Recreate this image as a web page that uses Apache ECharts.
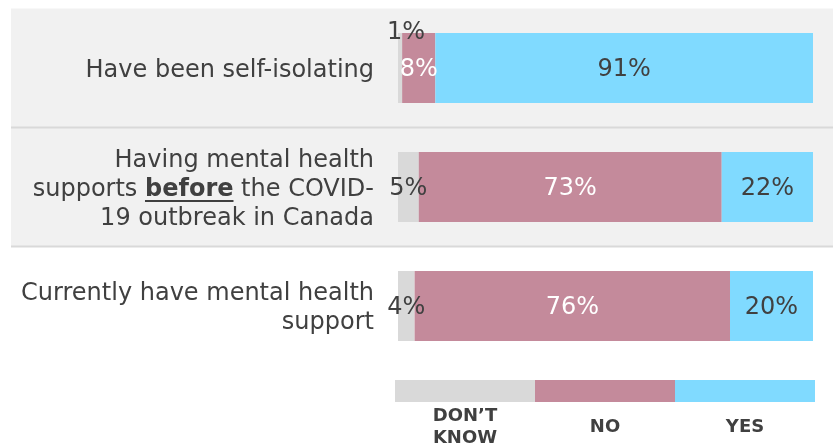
<!DOCTYPE html>
<html>
<head>
<meta charset="utf-8">
<script src="https://cdn.jsdelivr.net/npm/echarts@6/dist/echarts.min.js"></script>
<style>
  html, body { margin: 0; padding: 0; background: #ffffff; }
  #chart { width: 833px; height: 444px; }
</style>
</head>
<body>
<div id="chart"></div>
<script>
// Survey statements (top to bottom) and the share of answers, in percent
const categories = [
  'Have been self-isolating',
  'Having mental health\nsupports before the COVID-\n19 outbreak in Canada',
  'Currently have mental health\nsupport'
];
const dontKnow = [1, 5, 4];
const no = [8, 73, 76];
const yes = [91, 22, 20];

const answerNames = ['DON\u2019T\nKNOW', 'NO', 'YES'];
const answerColors = ['#D9D9D9', '#C48A9B', '#80DAFF'];
const labelColors = ['#404040', '#ffffff', '#404040'];

const FONT = '"DejaVu Sans", Verdana, sans-serif';
const TEXT = '#404040';
const GRID = { left: 398, right: 20, top: 8.5, height: 357 };
const LABEL_MARGIN = 24;

const chart = echarts.init(document.getElementById('chart'), null, { renderer: 'canvas' });

function makeSeries(name, values, idx) {
  return {
    name: name,
    type: 'bar',
    stack: 'total',
    barWidth: 70,
    itemStyle: { color: answerColors[idx] },
    emphasis: { disabled: true },
    label: {
      show: true,
      position: 'inside',
      formatter: '{c}%',
      color: labelColors[idx],
      fontFamily: FONT,
      fontSize: 24,
      offset: [0, 2]
    },
    // very thin segments get their value written above the bar
    data: values.map(v => v < 3 ? { value: v, label: { offset: [6, -35] } } : v)
  };
}

const option = {
  animation: false,
  textStyle: { fontFamily: FONT },
  grid: GRID,
  xAxis: { type: 'value', min: 0, max: 100, show: false },
  yAxis: {
    type: 'category',
    inverse: true,
    data: categories,
    axisLine: { show: false },
    axisTick: { show: false },
    splitLine: { show: false },
    axisLabel: {
      margin: LABEL_MARGIN,
      color: TEXT,
      fontFamily: FONT,
      fontSize: 24,
      lineHeight: 29,
      padding: [5, 0, 0, 0],
      align: 'right',
      formatter: v => v.replace('before', '{b|before}'),
      rich: {
        b: { fontWeight: 'bold', fontFamily: FONT, fontSize: 24, lineHeight: 29, color: TEXT }
      }
    }
  },
  series: [
    makeSeries(answerNames[0], dontKnow, 0),
    makeSeries(answerNames[1], no, 1),
    makeSeries(answerNames[2], yes, 2)
  ]
};

chart.setOption(option);

// Row backgrounds, separators, underline of the bold word and the legend strip
const step = GRID.height / categories.length;
const bandLeft = 11, bandRight = 833;
const graphics = [
  { type: 'rect', z: -10, silent: true,
    shape: { x: bandLeft, y: GRID.top, width: bandRight - bandLeft, height: step * 2 },
    style: { fill: '#F1F1F1' } },
  { type: 'line', z: -9, silent: true,
    shape: { x1: bandLeft, y1: GRID.top + step, x2: bandRight, y2: GRID.top + step },
    style: { stroke: '#D9D9D9', lineWidth: 2 } },
  { type: 'line', z: -9, silent: true,
    shape: { x1: bandLeft, y1: GRID.top + step * 2, x2: bandRight, y2: GRID.top + step * 2 },
    style: { stroke: '#D9D9D9', lineWidth: 2 } }
];

// underline below "before", measured from the text itself
const ctx = document.createElement('canvas').getContext('2d');
ctx.font = '24px ' + FONT;
const tailW = ctx.measureText(' the COVID-').width;
ctx.font = 'bold 24px ' + FONT;
const boldW = ctx.measureText('before').width;
const labelRight = GRID.left - LABEL_MARGIN;
const rowY = chart.convertToPixel({ yAxisIndex: 0 }, categories[1]);
graphics.push({
  type: 'line', z: 10, silent: true,
  shape: { x1: labelRight - tailW - boldW, y1: rowY + 14, x2: labelRight - tailW, y2: rowY + 14 },
  style: { stroke: TEXT, lineWidth: 2 }
});

// legend: three equal colour blocks with the answer names underneath
const legLeft = 395, legTop = 380, legW = 140, legH = 22;
answerNames.forEach((name, i) => {
  graphics.push({
    type: 'rect', silent: true,
    shape: { x: legLeft + i * legW, y: legTop, width: legW, height: legH },
    style: { fill: answerColors[i] }
  });
  graphics.push({
    type: 'text', silent: true,
    x: legLeft + i * legW + legW / 2, y: 427,
    style: {
      text: name, fill: TEXT, font: 'bold 18px ' + FONT,
      align: 'center', verticalAlign: 'middle', lineHeight: 22
    }
  });
});

chart.setOption({ graphic: { elements: graphics } });
</script>
</body>
</html>
